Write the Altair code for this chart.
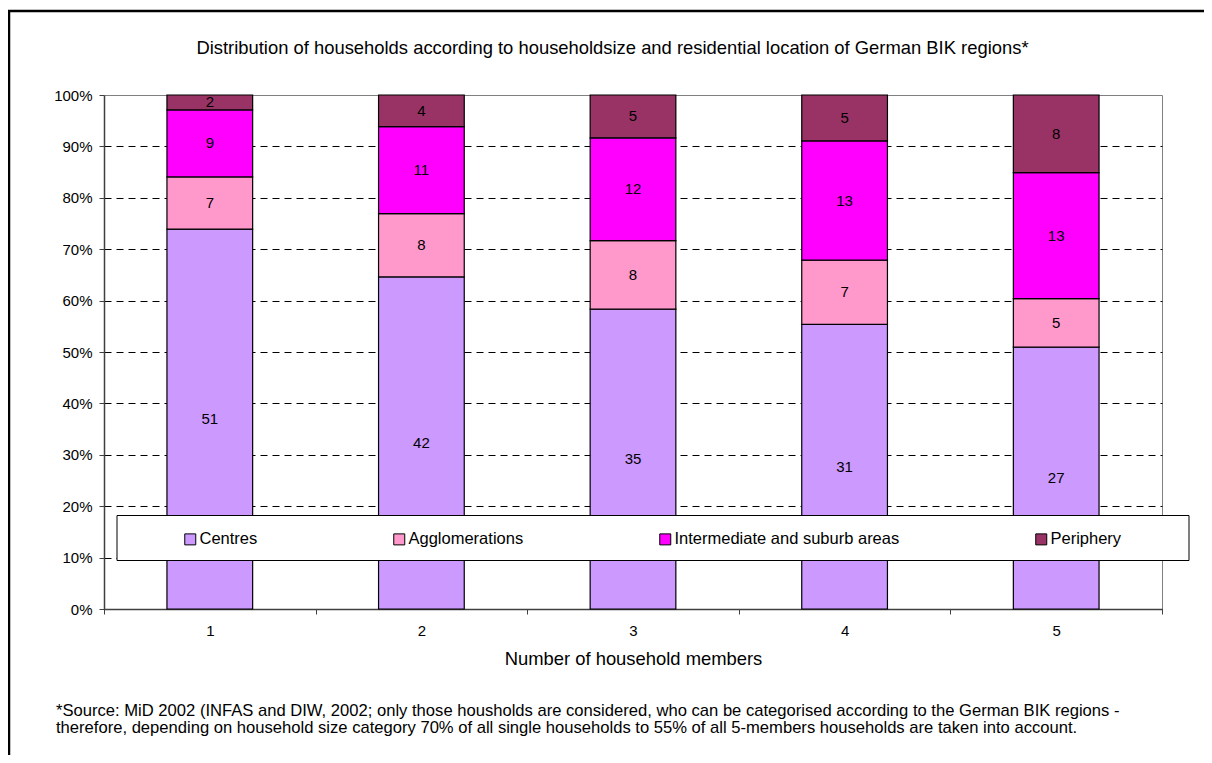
import altair as alt
import pandas as pd

# ---- data ----
members = ["1", "2", "3", "4", "5"]
regions = ["Centres", "Agglomerations", "Intermediate and suburb areas", "Periphery"]
colors = ["#CC99FF", "#FF99CC", "#FF00FF", "#993366"]
centres = [51, 42, 35, 31, 27]
agglomerations = [7, 8, 8, 7, 5]
intermediate = [9, 11, 12, 13, 13]
periphery = [2, 4, 5, 5, 8]
y_ticks = [0, 0.1, 0.2, 0.3, 0.4, 0.5, 0.6, 0.7, 0.8, 0.9, 1.0]
title_text = "Distribution of households according to householdsize and residential location of German BIK regions*"
x_title = "Number of household members"
footnote_1 = ("*Source: MiD 2002 (INFAS and DIW, 2002; only those housholds are considered, "
              "who can be categorised according to the German BIK regions -")
footnote_2 = ("therefore, depending on household size category 70% of all single households "
              "to 55% of all 5-members households are taken into account.")

series = [centres, agglomerations, intermediate, periphery]
rows = []
for i, m in enumerate(members):
    for j, r in enumerate(regions):
        rows.append({"members": m, "region": r, "order": j, "value": series[j][i]})
df = pd.DataFrame(rows)

W, H = 1058, 514
FONT = "Liberation Sans"

base = alt.Chart(df).transform_stack(
    stack="value", groupby=["members"], as_=["v0", "v1"], offset="normalize",
    sort=[alt.SortField("order", order="ascending")]
).transform_calculate(mid="(datum.v0 + datum.v1) / 2")

xscale = alt.Scale(domain=members, paddingInner=0, paddingOuter=0)
yscale = alt.Scale(domain=[0, 1], nice=False)

x_axis = alt.Axis(
    title=x_title, labelAngle=0, tickBand="extent", grid=False,
    tickSize=5, labelPadding=9, titleBaseline="alphabetic", titleY=55,
    domainColor="#404040", domainWidth=1.5, tickColor="#404040",
)
y_axis = alt.Axis(
    title=None, values=y_ticks, format=".0%", tickSize=5, labelPadding=7,
    domainColor="#404040", domainWidth=1.5, tickColor="#404040",
    grid=True,
    gridColor={"condition": {"test": "datum.value >= 0.999", "value": "transparent"}, "value": "black"},
    gridDash=[7, 5], gridWidth=1,
)

bars = base.mark_bar(stroke="black", strokeWidth=1.2, width=alt.RelativeBandSize(0.405)).encode(
    x=alt.X("members:N", scale=xscale, axis=x_axis),
    y=alt.Y("v0:Q", scale=yscale, axis=y_axis),
    y2="v1:Q",
    color=alt.Color(
        "region:N",
        scale=alt.Scale(domain=regions, range=colors),
        legend=alt.Legend(
            title=None, orient="none", legendX=78, legendY=436,
            direction="horizontal", columns=4, columnPadding=133,
            symbolType="square", symbolSize=121, symbolStrokeColor="black",
            symbolStrokeWidth=1, symbolOpacity=1,
            labelFont=FONT, labelFontSize=16.5, labelColor="black",
            labelOffset=1, labelLimit=400,
        ),
    ),
)

labels = base.mark_text(font=FONT, fontSize=15, color="black", baseline="middle").encode(
    x=alt.X("members:N", scale=xscale, axis=x_axis),
    y=alt.Y("mid:Q", scale=yscale, axis=y_axis),
    text="value:Q",
)

one = alt.Data(values=[{}])

legend_box = alt.Chart(one).mark_rect(fill="white", stroke="black", strokeWidth=1).encode(
    x=alt.value(13), x2=alt.value(1085), y=alt.value(420.5), y2=alt.value(465.5)
)

frame_left = alt.Chart(one).mark_rule(color="black", strokeWidth=2.5).encode(
    x=alt.value(-95), y=alt.value(-85), y2=alt.value(700)
)
frame_top = alt.Chart(one).mark_rule(color="black", strokeWidth=2.5).encode(
    x=alt.value(-96), x2=alt.value(1120), y=alt.value(-84)
)

title_mark = alt.Chart(one).mark_text(
    align="center", baseline="alphabetic", font=FONT, fontSize=18.4, color="black"
).encode(x=alt.value(508.5), y=alt.value(-41), text=alt.value(title_text))

foot1 = alt.Chart(one).mark_text(align="left", baseline="middle", font=FONT, fontSize=16.6, color="black").encode(
    x=alt.value(-48), y=alt.value(616), text=alt.value(footnote_1)
)
foot2 = alt.Chart(one).mark_text(align="left", baseline="middle", font=FONT, fontSize=16.6, color="black").encode(
    x=alt.value(-48), y=alt.value(632.5), text=alt.value(footnote_2)
)

chart = alt.layer(bars, labels, legend_box, frame_left, frame_top, title_mark, foot1, foot2).properties(
    width=W, height=H,
    autosize=alt.AutoSizeParams(type="none"),
    padding={"left": 96, "top": 87, "right": 42, "bottom": 146},
    background="white",
).configure_view(stroke="#808080", strokeWidth=1).configure_axis(
    labelFont=FONT, labelFontSize=15, labelColor="black",
    titleFont=FONT, titleFontSize=18.4, titleFontWeight="normal", titleColor="black",
)

chart.save("out.html", embed_options={"renderer": "svg", "actions": False})
